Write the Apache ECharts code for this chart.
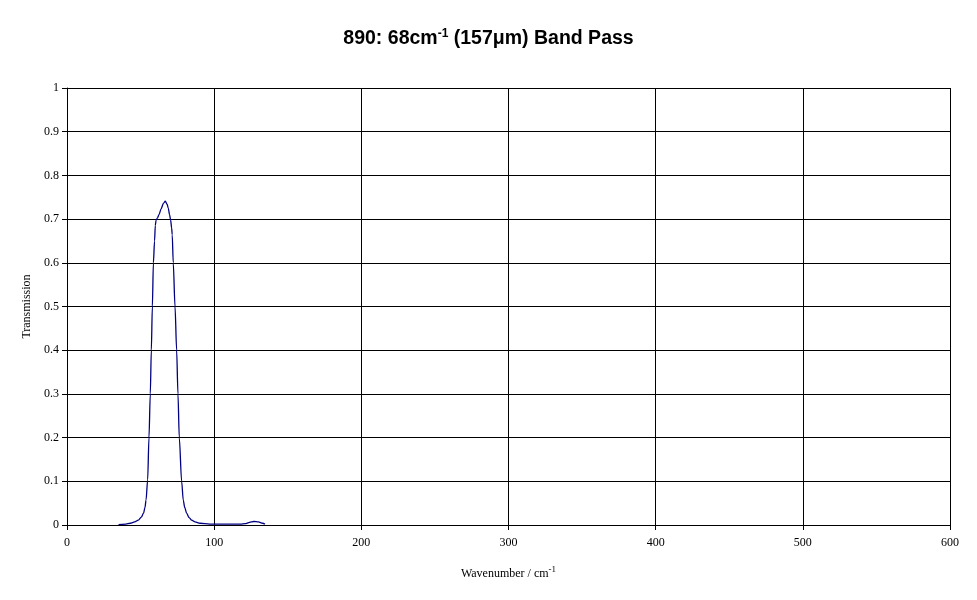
<!DOCTYPE html>
<html>
<head>
<meta charset="utf-8">
<script src="https://cdn.jsdelivr.net/npm/echarts@6/dist/echarts.min.js"></script>
<style>html,body{margin:0;padding:0;background:#fff;}#c{width:977px;height:600px;}</style>
</head>
<body>
<div id="c"></div>
<script>
const wavenumber = [35, 40, 43, 46, 48.5, 50.5, 52, 53, 53.7, 54.8, 55.7, 56.6, 57.3, 58.0, 58.7, 59.5, 60.0, 60.5, 61.5, 62.5, 64, 65.5, 66.8, 68, 68.8, 69.7, 70.4, 71.1, 71.5, 72.2, 73.4, 74.5, 75.4, 76.3, 77.9, 79, 80, 81.3, 83, 84.7, 87, 90.4, 97, 105, 112, 118, 121, 124, 127, 130, 133, 134.5];
const transmission = [0.001, 0.002, 0.004, 0.007, 0.011, 0.018, 0.027, 0.04, 0.057, 0.103, 0.2, 0.3, 0.4, 0.5, 0.6, 0.65, 0.685, 0.697, 0.703, 0.71, 0.724, 0.736, 0.741, 0.734, 0.725, 0.71, 0.698, 0.68, 0.664, 0.6, 0.5, 0.4, 0.3, 0.2, 0.1, 0.057, 0.04, 0.027, 0.017, 0.011, 0.007, 0.004, 0.002, 0.002, 0.002, 0.002, 0.003, 0.006, 0.008, 0.007, 0.004, 0.002];
const xTicks = [0, 100, 200, 300, 400, 500, 600];
const yTicks = [0, 0.1, 0.2, 0.3, 0.4, 0.5, 0.6, 0.7, 0.8, 0.9, 1];

const chart = echarts.init(document.getElementById('c'), null, {renderer: 'canvas'});
const serif = '"Liberation Serif", "Times New Roman", serif';
chart.setOption({
  backgroundColor: '#ffffff',
  animation: false,
  title: {
    text: '{b|890: 68cm}{s|-1}{b| (157μm) Band Pass}',
    left: 'center',
    top: 23,
    textStyle: {
      rich: {
        b: {fontFamily: '"Liberation Sans", Arial, sans-serif', fontWeight: 'bold', fontSize: 19.5, color: '#000', verticalAlign: 'bottom'},
        s: {fontFamily: '"Liberation Sans", Arial, sans-serif', fontWeight: 'bold', fontSize: 12, color: '#000', verticalAlign: 'top', padding: [0, 0, 9, 0]}
      }
    }
  },
  grid: {left: 67, right: 27, top: 88, bottom: 75, containLabel: false},
  xAxis: {
    type: 'value',
    min: xTicks[0], max: xTicks[xTicks.length - 1], interval: 100,
    name: '{n|Wavenumber / cm}{s|-1}',
    nameLocation: 'middle',
    nameGap: 40,
    nameTextStyle: {
      rich: {
        n: {fontFamily: serif, fontSize: 12, color: '#000', verticalAlign: 'bottom'},
        s: {fontFamily: serif, fontSize: 9, color: '#000', verticalAlign: 'top', padding: [0, 0, 6, 0]}
      }
    },
    axisLine: {show: true, lineStyle: {color: '#000', width: 1}},
    axisTick: {show: true, length: 5, lineStyle: {color: '#000'}},
    axisLabel: {fontFamily: serif, fontSize: 12, color: '#000', margin: 12},
    splitLine: {show: true, lineStyle: {color: '#000', width: 1}}
  },
  yAxis: {
    type: 'value',
    min: yTicks[0], max: yTicks[yTicks.length - 1], interval: 0.1,
    name: 'Transmission',
    nameLocation: 'middle',
    nameGap: 31,
    nameRotate: 90,
    nameTextStyle: {fontFamily: serif, fontSize: 12, color: '#000'},
    axisLine: {show: true, lineStyle: {color: '#000', width: 1}},
    axisTick: {show: true, length: 5, lineStyle: {color: '#000'}},
    axisLabel: {fontFamily: serif, fontSize: 12, color: '#000', margin: 8},
    splitLine: {show: true, lineStyle: {color: '#000', width: 1}}
  },
  series: [{
    type: 'line',
    data: wavenumber.map((w, i) => [w, transmission[i]]),
    showSymbol: false,
    smooth: 0.3,
    smoothMonotone: 'x',
    lineStyle: {color: '#000080', width: 1.3},
    itemStyle: {color: '#000080'}
  }]
});
</script>
</body>
</html>
